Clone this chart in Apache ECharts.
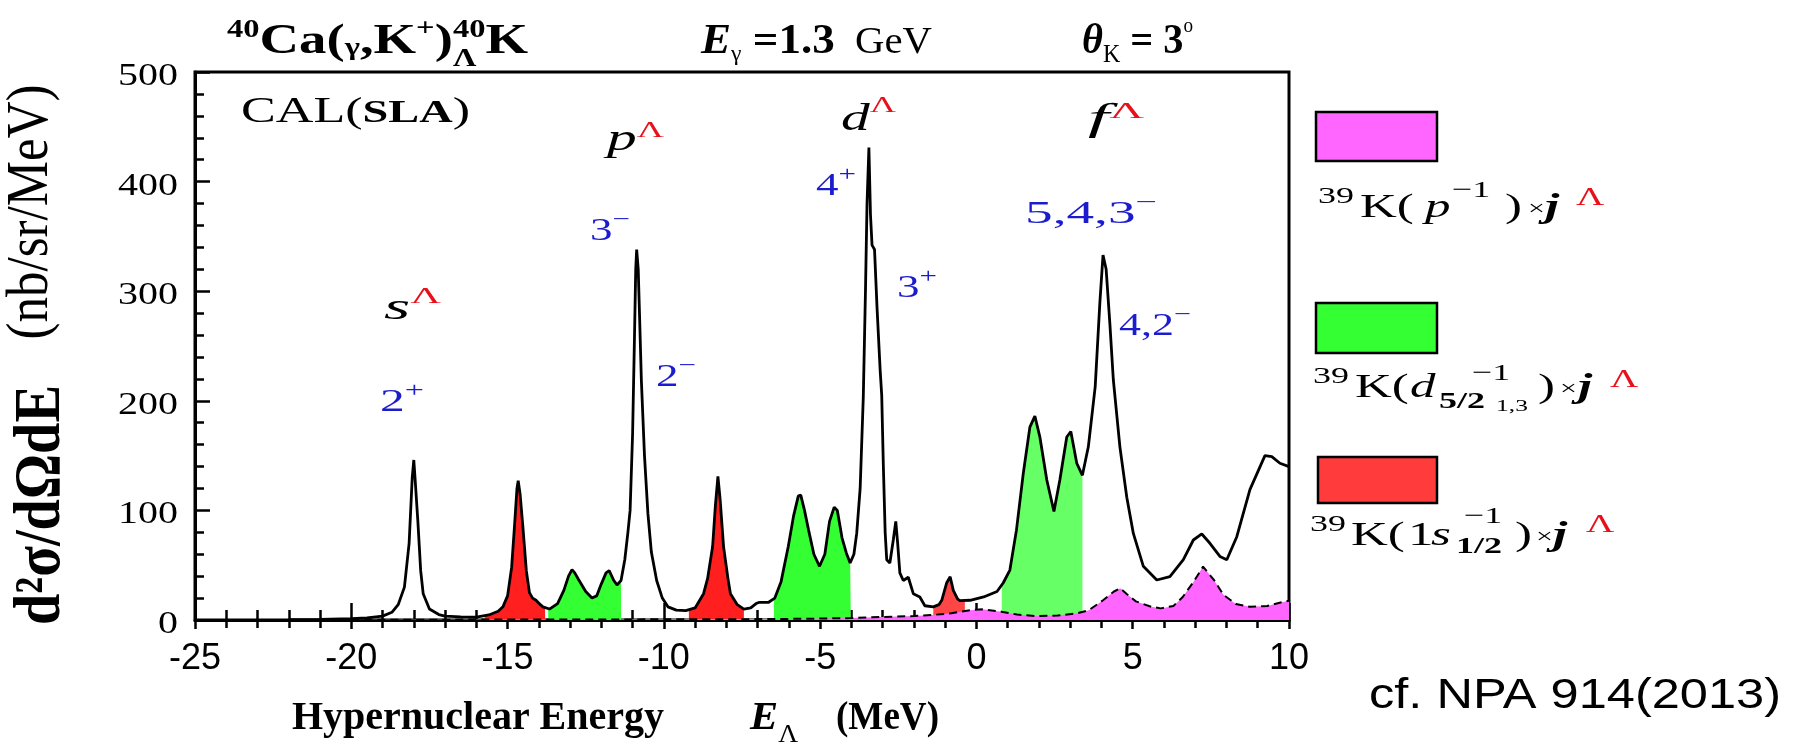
<!DOCTYPE html>
<html>
<head>
<meta charset="utf-8">
<script src="https://cdn.jsdelivr.net/npm/echarts@6/dist/echarts.min.js"></script>
<style>
  html, body { margin: 0; padding: 0; background: #fff; }
  #chart { width: 1796px; height: 743px; }
</style>
</head>
<body>
<div id="chart"></div>
<script>
// Total cross section, 40Ca(gamma,K+)40_Lambda K, E_gamma = 1.3 GeV, theta_K = 3 deg
const totalE = [-22.0,-21.0,-20.0,-19.5,-19.0,-18.7,-18.5,-18.3,-18.15,-18.05,-18.0,-17.95,-17.87,-17.78,-17.7,-17.5,-17.2,-17.0,-16.5,-16.0,
  -15.6,-15.3,-15.15,-15.0,-14.87,-14.78,-14.7,-14.66,-14.6,-14.51,-14.4,-14.3,-14.2,-14.09,-13.95,-13.87,-13.66,-13.4,-13.2,-13.05,
  -12.94,-12.85,-12.73,-12.5,-12.3,-12.15,-12.0,-11.85,-11.75,-11.6,-11.5,-11.37,-11.25,-11.15,-11.08,-11.0,-10.94,-10.9,-10.87,-10.82,
  -10.77,-10.72,-10.62,-10.51,-10.4,-10.23,-10.05,-9.87,-9.6,-9.3,-9.0,-8.73,-8.6,-8.44,-8.35,-8.27,-8.2,-8.09,-7.95,-7.87,
  -7.65,-7.44,-7.22,-7.05,-6.96,-6.66,-6.45,-6.25,-6.02,-5.85,-5.7,-5.62,-5.5,-5.37,-5.2,-5.02,-4.85,-4.7,-4.55,-4.45,
  -4.3,-4.16,-4.04,-3.92,-3.83,-3.72,-3.62,-3.55,-3.5,-3.44,-3.39,-3.34,-3.26,-3.18,-3.08,-3.03,-2.98,-2.92,-2.87,-2.77,
  -2.66,-2.58,-2.52,-2.45,-2.34,-2.18,-2.02,-1.81,-1.65,-1.38,-1.2,-1.11,-0.95,-0.84,-0.74,-0.6,-0.52,-0.2,0.23,0.66,
  0.86,1.07,1.28,1.5,1.71,1.87,2.03,2.25,2.48,2.67,2.89,3.02,3.21,3.39,3.58,3.8,3.95,4.05,4.15,4.27,
  4.38,4.59,4.81,5.02,5.34,5.77,6.19,6.62,6.94,7.21,7.47,7.79,8.01,8.33,8.75,9.23,9.45,9.71,10.0];
const totalV = [0.3,0.6,1.2,2.0,3.5,7,14,30,70,130,146,125,90,45,24,10,5,3.6,2.8,2.6,
  4.6,8,12,22,48,85,120,127,115,85,45,25,20,18,14,12,10,15,27,40,
  46,43,37,26,20,22,33,43,45,36,32,36,55,80,100,170,258,320,338,320,
  270,219,150,97,62,36,20,12,9,8.5,11,24,38,67,105,131,110,67,38,24,
  14,10,11,15,16,16,20,35,67,95,113,114,100,82,60,49,60,90,103,100,
  75,61,52,60,79,120,203,300,380,431,370,342,338,285,228,205,143,80,55,52,
  73,90,70,43,36,39,24,21,13,12,14,18,34,39.5,27,19,17.6,18,21,26,
  34,45.6,82,134,176,186,167,128,99,128,167,172,143,132,158,213,290,333,320,270,
  219,158,112,79,49,36.5,39.5,55,73,78.5,70,58,55,76,119,150,149,143,140];

// 39K(p^-1) x j^Lambda component (dashed curve)
const pHoleE = [-20,-15,-10,-7,-6,-5,-4,-3,-2,-1.4,-0.8,-0.2,0.2,0.8,1.3,1.9,2.6,3.2,3.6,4.05,
  4.4,4.6,4.8,5.1,5.6,5.9,6.3,6.6,6.95,7.25,7.6,7.9,8.3,8.75,9.3,9.7,10];
const pHoleV = [0.2,0.4,0.6,0.8,1.0,1.3,1.8,2.8,3.6,4.6,6.2,9,9.7,7.6,5,3.6,4,6,9,18,
  26,29,24,17,12,10.6,12.8,21,35,48.7,36.5,23,14.6,12,12.8,15.8,17.6];

// Energy windows of the 39K(1s1/2^-1) and 39K(d5/2^-1) components
const sHoleRanges = [[-15.73, -13.80], [-9.20, -7.44], [-1.38, -0.37]];
const dHoleRanges = [[-13.70, -11.37], [-6.48, -4.02], [0.81, 3.39]];

const xTicks = [-25, -20, -15, -10, -5, 0, 5, 10];
const yTicks = [0, 100, 200, 300, 400, 500];

const SERIF = '"Liberation Serif","Times New Roman",serif';
const SANS = '"Liberation Sans",Arial,sans-serif';
const RED = '#e8101a';
const BLUE = '#1c1ccf';
const PINK = '#ff66ff';
const sColors = ['#ff1f1f', '#ff1f1f', '#ff4646'];
const dColors = ['#33ff33', '#33ff33', '#66ff66'];

function interp(E, V, x) {
  for (let i = 0; i < E.length - 1; i++) {
    if (x >= E[i] && x <= E[i + 1]) {
      const t = (x - E[i]) / (E[i + 1] - E[i]);
      return V[i] + t * (V[i + 1] - V[i]);
    }
  }
  return 0;
}
function window_(E, V, a, b) {
  const pts = [[a, interp(E, V, a)]];
  E.forEach((e, i) => { if (e > a && e < b) pts.push([e, V[i]]); });
  pts.push([b, interp(E, V, b)]);
  return pts;
}
const zip = (E, V) => E.map((e, i) => [e, V[i]]);

const series = [];
sHoleRanges.forEach((r, k) => series.push({
  type: 'line', data: window_(totalE, totalV, r[0], r[1]), showSymbol: false, z: 2,
  lineStyle: { width: 0 }, areaStyle: { color: sColors[k], opacity: 1 }, silent: true
}));
dHoleRanges.forEach((r, k) => series.push({
  type: 'line', data: window_(totalE, totalV, r[0], r[1]), showSymbol: false, z: 2,
  lineStyle: { width: 0 }, areaStyle: { color: dColors[k], opacity: 1 }, silent: true
}));
series.push({
  type: 'line', data: zip(pHoleE, pHoleV), showSymbol: false, z: 3,
  lineStyle: { color: '#000', width: 2, type: [8, 5] },
  areaStyle: { color: PINK, opacity: 1 }, silent: true
});
series.push({
  type: 'line', data: zip(totalE, totalV), showSymbol: false, z: 4,
  lineStyle: { color: '#000', width: 2.8 }, silent: true
});

const tickStyle = { color: '#000', width: 2.5 };
const chart = echarts.init(document.getElementById('chart'), null, { renderer: 'canvas' });
chart.setOption({
  animation: false,
  backgroundColor: '#fff',
  grid: { left: 195, top: 72, width: 1094, height: 548, show: true, borderColor: '#000', borderWidth: 3 },
  xAxis: [
    {
      type: 'value', min: xTicks[0], max: xTicks[xTicks.length - 1], interval: 5, position: 'bottom',
      axisLine: { onZero: false, lineStyle: { color: '#000', width: 3 } },
      axisTick: { inside: true, length: 17, lineStyle: tickStyle },
      minorTick: { show: true, splitNumber: 5, length: 10, lineStyle: tickStyle },
      splitLine: { show: false },
      axisLabel: { fontFamily: SANS, fontSize: 36, color: '#000', margin: 21,
        formatter: v => xTicks.includes(v) ? String(v) : '' }
    },
    {
      type: 'value', min: xTicks[0], max: xTicks[xTicks.length - 1], interval: 5, position: 'bottom',
      axisLine: { show: false, onZero: false },
      axisTick: { inside: false, length: 9, lineStyle: tickStyle },
      minorTick: { show: true, splitNumber: 5, length: 8, lineStyle: tickStyle },
      splitLine: { show: false }, axisLabel: { show: false }
    }
  ],
  yAxis: {
    type: 'value', min: yTicks[0], max: yTicks[yTicks.length - 1], interval: 100, position: 'left',
    axisLine: { show: true, onZero: false, lineStyle: { color: '#000', width: 3 } },
    axisTick: { inside: true, length: 15, lineStyle: tickStyle },
    minorTick: { show: true, splitNumber: 5, length: 9, lineStyle: tickStyle },
    splitLine: { show: false }, axisLabel: { show: false }
  },
  series
});

// ---- text layout helpers ----
const ctx2d = document.createElement('canvas').getContext('2d');
const fontOf = r => `${r.i ? 'italic ' : ''}${r.w || 'normal'} ${r.s}px ${r.f || SERIF}`;
function midShift(font) {
  ctx2d.font = font;
  ctx2d.textBaseline = 'alphabetic';
  const a = ctx2d.measureText('H').actualBoundingBoxAscent;
  ctx2d.textBaseline = 'middle';
  const b = ctx2d.measureText('H').actualBoundingBoxAscent;
  ctx2d.textBaseline = 'alphabetic';
  return a - b;
}
function advance(r) { ctx2d.font = fontOf(r); return ctx2d.measureText(r.t).width; }
const els = [];
function place(x, base, r, sx, align) {
  const font = fontOf(r);
  els.push({
    type: 'text', x, y: base + (r.dy || 0) - midShift(font), scaleX: sx, silent: true, z: 20,
    style: { text: r.t, font, fill: r.c || '#000', align: align || 'left', verticalAlign: 'middle',
      textAlign: align || 'left', textVerticalAlign: 'middle' }
  });
}
// lay out a run of pieces left to right, stretched to span x0..x1
function flow(x0, x1, base, runs) {
  let W = 0, sw = 0;
  runs.forEach(r => { const w = advance(r); if (r.stack) sw = Math.max(sw, w); else { W += Math.max(w, sw); sw = 0; } });
  const sx = (x1 - x0) / W;
  let cx = x0; sw = 0;
  runs.forEach(r => {
    const w = advance(r);
    place(cx, base, r, sx);
    if (r.stack) sw = Math.max(sw, w); else { cx += Math.max(w, sw) * sx; sw = 0; }
  });
}
// pieces at given x positions
function pieces(base, list, sx) { list.forEach(r => place(r.x, base, r, sx)); }

// title line
flow(227, 528, 53, [
  { t: '40', s: 25, w: 'bold', dy: -16 }, { t: 'Ca(', s: 42, w: 'bold' }, { t: 'γ', s: 25, w: 'bold', dy: 2 },
  { t: ',K', s: 42, w: 'bold' }, { t: '+', s: 25, w: 'bold', dy: -17 }, { t: ')', s: 42, w: 'bold' },
  { t: '40', s: 25, w: 'bold', dy: -16, stack: true }, { t: 'Λ', s: 25, w: 'bold', dy: 13 }, { t: 'K', s: 42, w: 'bold' }
]);
flow(701, 932, 53, [
  { t: 'E', s: 42, w: 'bold', i: true }, { t: 'γ', s: 22, dy: 7 }, { t: ' =1.3', s: 42, w: 'bold' }, { t: '  GeV', s: 38 }
]);
flow(1082, 1193, 53, [
  { t: 'θ', s: 42, w: 'bold', i: true }, { t: 'K', s: 25, dy: 9 }, { t: ' = 3', s: 42, w: 'bold' }, { t: 'o', s: 20, dy: -21 }
]);

// labels inside the plot
flow(241, 470, 122, [{ t: 'CAL(', s: 36 }, { t: 'SLA', s: 32, w: 'bold' }, { t: ')', s: 36 }]);
flow(384, 441, 319, [{ t: 's', s: 38, i: true }, { t: 'Λ', s: 24, dy: -16, c: RED }]);
flow(607, 664, 150, [{ t: 'p', s: 38, i: true }, { t: 'Λ', s: 24, dy: -13, c: RED }]);
flow(841, 896, 130, [{ t: 'd', s: 38, i: true }, { t: 'Λ', s: 24, dy: -18, c: RED }]);
flow(1088, 1144, 130, [{ t: 'f', s: 38, i: true }, { t: 'Λ', s: 24, dy: -12, c: RED }]);
const jp = (x0, x1, base, n, sign) => flow(x0, x1, base, [{ t: n, s: 32, c: BLUE }, { t: sign, s: 22, dy: -14, c: BLUE }]);
jp(380, 424, 411, '2', '+');
jp(590, 630, 240, '3', '−');
jp(656, 696, 386, '2', '−');
jp(816, 856, 195, '4', '+');
jp(897, 937, 297, '3', '+');
jp(1025, 1157, 223, '5,4,3', '−');
jp(1119, 1191, 335, '4,2', '−');

// axis titles
flow(292, 664, 729, [{ t: 'Hypernuclear Energy', s: 40, w: 'bold' }]);
flow(750, 798, 729, [{ t: 'E', s: 40, w: 'bold', i: true }, { t: 'Λ', s: 26, dy: 13 }]);
flow(836, 939, 729, [{ t: '(MeV)', s: 40, w: 'bold' }]);

// rotated y-axis title
function vText(cx, cy, len, text, weight, thickScale) {
  const f0 = `${weight} 40px ${SERIF}`;
  ctx2d.font = f0;
  const size = 40 * len / ctx2d.measureText(text).width;
  els.push({
    type: 'text', x: cx, y: cy, rotation: Math.PI / 2, scaleY: thickScale, silent: true, z: 20,
    style: { text, font: `${weight} ${size}px ${SERIF}`, fill: '#000', align: 'center', verticalAlign: 'middle',
      textAlign: 'center', textVerticalAlign: 'middle' }
  });
}
vText(42, 505, 240, 'd²σ/dΩdE', 'bold', 1.15);
vText(32, 212, 255, '(nb/sr/MeV)', 'normal', 1.15);

// y tick labels, placed on the axis scale
yTicks.forEach(v => {
  const py = chart.convertToPixel({ yAxisIndex: 0 }, v);
  place(178, py + 13, { t: String(v), s: 32 }, 1.25, 'right');
});

// legend boxes and labels
const box = (x, y, w, h, c) => els.push({ type: 'rect', shape: { x, y, width: w, height: h }, z: 20, silent: true,
  style: { fill: c, stroke: '#000', lineWidth: 2.5 } });
box(1316, 112, 121, 49, PINK);
box(1316, 303, 121, 50, '#33ff33');
box(1318, 457, 119, 46, '#ff3b3b');
const LX = 1.5;
pieces(217, [
  { x: 1318, t: '39', s: 24, dy: -14 }, { x: 1360, t: 'K(', s: 34 }, { x: 1425, t: 'p', s: 34, i: true },
  { x: 1452, t: '−1', s: 24, dy: -20 }, { x: 1505, t: ')', s: 34 }, { x: 1528, t: '×', s: 20, dy: -2 },
  { x: 1545, t: 'j', s: 34, w: 'bold', i: true }, { x: 1576, t: 'Λ', s: 26, dy: -12, c: RED }
], LX);
pieces(397, [
  { x: 1313, t: '39', s: 24, dy: -14 }, { x: 1355, t: 'K(', s: 34 }, { x: 1410, t: 'd', s: 34, i: true },
  { x: 1439, t: '5/2', s: 24, w: 'bold', dy: 11 }, { x: 1472, t: '−1', s: 24, dy: -17 }, { x: 1496, t: '1,3', s: 17, dy: 14 },
  { x: 1538, t: ')', s: 34 }, { x: 1560, t: '×', s: 20, dy: -2 },
  { x: 1578, t: 'j', s: 34, w: 'bold', i: true }, { x: 1610, t: 'Λ', s: 26, dy: -10, c: RED }
], LX);
pieces(545, [
  { x: 1310, t: '39', s: 24, dy: -14 }, { x: 1351, t: 'K(', s: 34 }, { x: 1408, t: '1', s: 34 }, { x: 1431, t: 's', s: 34, i: true },
  { x: 1456, t: '1/2', s: 24, w: 'bold', dy: 8 }, { x: 1464, t: '−1', s: 24, dy: -22 },
  { x: 1515, t: ')', s: 34 }, { x: 1536, t: '×', s: 20, dy: -2 },
  { x: 1553, t: 'j', s: 34, w: 'bold', i: true }, { x: 1586, t: 'Λ', s: 26, dy: -13, c: RED }
], LX);

// reference note
flow(1369, 1781, 708, [{ t: 'cf. NPA 914(2013)', s: 42, f: SANS }]);

chart.setOption({ graphic: { elements: els } });
</script>
</body>
</html>
